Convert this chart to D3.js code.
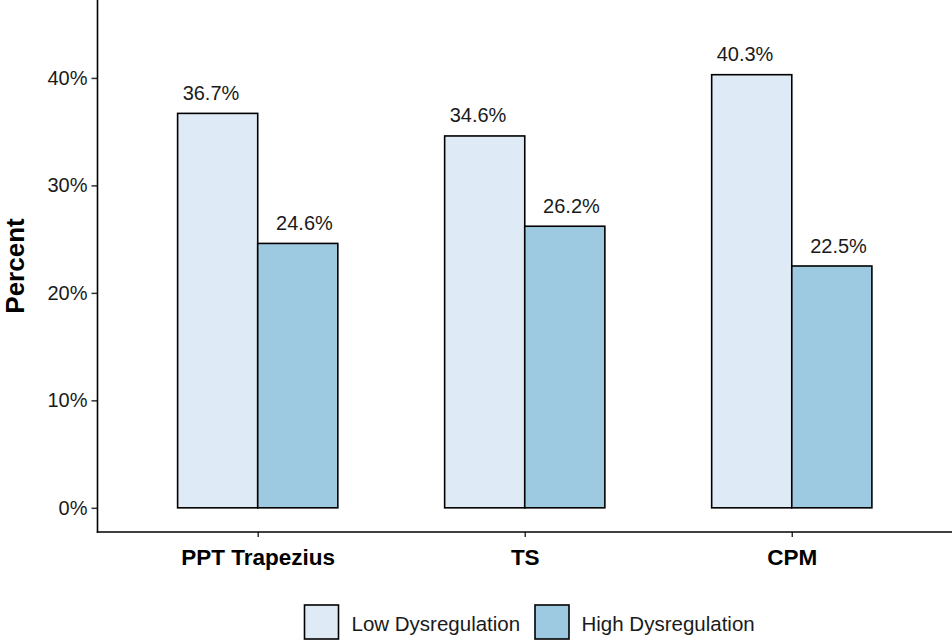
<!DOCTYPE html>
<html>
<head>
<meta charset="utf-8">
<script src="https://cdn.jsdelivr.net/npm/d3@7"></script>
<style>
body{margin:0;background:#fff;}
svg{display:block;font-family:"Liberation Sans",Arial,sans-serif;}
</style>
</head>
<body>
<svg id="chart" width="952" height="640"></svg>
<script>
const categories = ["PPT Trapezius", "TS", "CPM"];
const seriesNames = ["Low Dysregulation", "High Dysregulation"];
const lowValues = [36.7, 34.6, 40.3];
const highValues = [24.6, 26.2, 22.5];
const yTicks = [0, 10, 20, 30, 40];
const colors = ["#DEEBF7", "#9ECAE1"];

(function () {
const svg = d3.select("#chart");
const mLeft = 97.5, mRight = 952, mTop = 0, mBottom = 532;

const x = d3.scalePoint().domain(categories).range([mLeft, mRight]).padding(0.6);
const step = x.step();
const y = d3.scaleLinear().domain([-2.25, 47.25]).range([mBottom, mTop]);

const data = [];
categories.forEach((c, i) => {
  data.push({cat: c, s: 0, v: lowValues[i]});
  data.push({cat: c, s: 1, v: highValues[i]});
});

const barW = 0.3 * step;
svg.append("g").selectAll("rect").data(data).join("rect")
  .attr("x", d => x(d.cat) + (d.s === 0 ? -barW : 0))
  .attr("y", d => y(d.v))
  .attr("width", barW)
  .attr("height", d => y(0) - y(d.v))
  .attr("fill", d => colors[d.s])
  .attr("stroke", "#000")
  .attr("stroke-width", 1.6);

svg.append("g").selectAll("text").data(data).join("text")
  .attr("x", d => x(d.cat) + (d.s === 0 ? -1 : 1) * 0.175 * step)
  .attr("y", d => y(d.v) - 13.5)
  .attr("text-anchor", "middle")
  .attr("font-size", 20)
  .attr("fill", "#1a1a1a")
  .text(d => d.v.toFixed(1) + "%");

// Y axis
const yAxis = d3.axisLeft(y).tickValues(yTicks).tickFormat(d => d + "%").tickSize(6).tickPadding(4);
const gy = svg.append("g").attr("transform", `translate(${mLeft},0)`).call(yAxis);
gy.select(".domain").remove();
gy.selectAll(".tick line").attr("stroke", "#333").attr("stroke-width", 1.5);
gy.selectAll(".tick text").attr("font-size", 20).attr("fill", "#1a1a1a").attr("font-family", "Liberation Sans, Arial, sans-serif");

// X axis
const xAxis = d3.axisBottom(x).tickSize(5).tickPadding(12);
const gx = svg.append("g").attr("transform", `translate(0,${mBottom})`).call(xAxis);
gx.select(".domain").remove();
gx.selectAll(".tick line").attr("stroke", "#333").attr("stroke-width", 1.5);
gx.selectAll(".tick text").attr("font-size", 22.5).attr("font-weight", "bold").attr("fill", "#000")
  .attr("font-family", "Liberation Sans, Arial, sans-serif");

// axis lines
svg.append("line").attr("x1", mLeft).attr("x2", mLeft).attr("y1", mTop).attr("y2", mBottom + 0.75)
  .attr("stroke", "#000").attr("stroke-width", 1.6);
svg.append("line").attr("x1", mLeft - 0.75).attr("x2", mRight).attr("y1", mBottom).attr("y2", mBottom)
  .attr("stroke", "#000").attr("stroke-width", 1.6);

// Y title
svg.append("text")
  .attr("transform", `translate(24,${(mTop + mBottom) / 2}) rotate(-90)`)
  .attr("text-anchor", "middle")
  .attr("font-size", 26)
  .attr("font-weight", "bold")
  .text("Percent");

// Legend
const legendItems = [
  {name: seriesNames[0], color: colors[0], bx: 304.5, tx: 351.5},
  {name: seriesNames[1], color: colors[1], bx: 535, tx: 581.5}
];
const lg = svg.append("g");
legendItems.forEach(it => {
  lg.append("rect").attr("x", it.bx).attr("y", 605).attr("width", 34).attr("height", 34)
    .attr("fill", it.color).attr("stroke", "#000").attr("stroke-width", 1.6);
  lg.append("text").attr("x", it.tx).attr("y", 630.5).attr("font-size", 20.5).attr("fill", "#1a1a1a").text(it.name);
});
})();
</script>
</body>
</html>
